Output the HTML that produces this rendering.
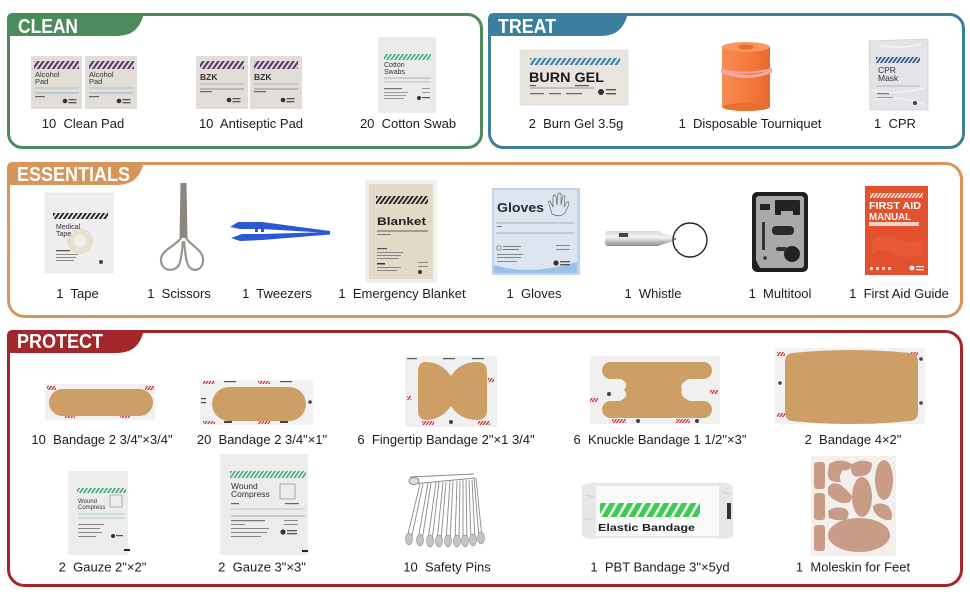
<!DOCTYPE html>
<html><head><meta charset="utf-8">
<style>
html,body{margin:0;padding:0;background:#fff;width:970px;height:600px;overflow:hidden}
svg{display:block}
text{font-family:"Liberation Sans",Arial,sans-serif}
.l{font-size:13px;fill:#1c1c1c;text-anchor:middle}
.t{font-weight:bold;font-size:20.5px;fill:#fff}
</style></head><body>
<svg width="970" height="600" viewBox="0 0 970 600" xmlns="http://www.w3.org/2000/svg">
<defs>
<pattern id="pu" width="5" height="10" patternUnits="userSpaceOnUse" patternTransform="skewX(-35)"><rect width="2.6" height="10" fill="#5a3a6b"/></pattern>
<pattern id="pg" width="4" height="10" patternUnits="userSpaceOnUse" patternTransform="skewX(-35)"><rect width="2" height="10" fill="#45ad78"/></pattern>
<pattern id="pb" width="5" height="10" patternUnits="userSpaceOnUse" patternTransform="skewX(-35)"><rect width="2.6" height="10" fill="#3a7fb2"/></pattern>
<pattern id="pn" width="4" height="10" patternUnits="userSpaceOnUse" patternTransform="skewX(-35)"><rect width="2" height="10" fill="#2b4b8e"/></pattern>
<pattern id="pk" width="4.5" height="10" patternUnits="userSpaceOnUse" patternTransform="skewX(-35)"><rect width="2.3" height="10" fill="#222"/></pattern>
<pattern id="pw" width="3.5" height="10" patternUnits="userSpaceOnUse" patternTransform="skewX(-35)"><rect width="1.8" height="10" fill="#fff"/></pattern>
<pattern id="pr" width="3" height="10" patternUnits="userSpaceOnUse" patternTransform="skewX(-35)"><rect width="1.5" height="10" fill="#d42a2a"/></pattern>
<pattern id="pe" width="9" height="20" patternUnits="userSpaceOnUse" patternTransform="skewX(-30)"><rect width="6" height="20" fill="#3ccc50"/></pattern>
<linearGradient id="og" x1="0" x2="1"><stop offset="0" stop-color="#f78c52"/><stop offset=".5" stop-color="#f67b3e"/><stop offset="1" stop-color="#e86a2e"/></linearGradient>
<linearGradient id="sg" x1="0" y1="0" x2="0" y2="1"><stop offset="0" stop-color="#d8d8d8"/><stop offset=".4" stop-color="#f4f4f4"/><stop offset="1" stop-color="#8c8c8c"/></linearGradient>
</defs>

<!-- BOXES -->
<rect x="8.5" y="14.5" width="473" height="133" rx="14" fill="none" stroke="#4b8b5c" stroke-width="3"/>
<path d="M7,19 Q7,13 13,13 H144 C140,29 132,36 116,36 H7 Z" fill="#4b8b5c"/>
<text class="t" x="18" y="33" textLength="60" lengthAdjust="spacingAndGlyphs">CLEAN</text>

<rect x="489.5" y="14.5" width="474" height="133" rx="14" fill="none" stroke="#3b7e9d" stroke-width="3"/>
<path d="M488,19 Q488,13 494,13 H628 C624,29 616,36 600,36 H488 Z" fill="#3b7e9d"/>
<text class="t" x="498" y="33" textLength="58" lengthAdjust="spacingAndGlyphs">TREAT</text>

<rect x="8.5" y="163.5" width="953" height="153" rx="16" fill="none" stroke="#d8955a" stroke-width="3"/>
<path d="M7,168 Q7,162 13,162 H144 C140,178 132,185 116,185 H7 Z" fill="#d8955a"/>
<text class="t" x="17" y="181" textLength="113" lengthAdjust="spacingAndGlyphs">ESSENTIALS</text>

<rect x="8.5" y="331.5" width="953" height="254" rx="16" fill="none" stroke="#a3262b" stroke-width="3"/>
<path d="M7,336 Q7,330 13,330 H144 C140,346 132,353 116,353 H7 Z" fill="#a3262b"/>
<text class="t" x="17" y="348" textLength="86" lengthAdjust="spacingAndGlyphs">PROTECT</text>

<!-- CLEAN items -->
<g>
<rect x="31" y="56" width="51" height="53" fill="#e1ddd7"/>
<rect x="34" y="61" width="45" height="8" fill="url(#pu)"/>
<text x="35" y="77" font-size="7.5" fill="#333">Alcohol</text>
<text x="35" y="84" font-size="7.5" fill="#333">Pad</text>
<line x1="35" y1="88" x2="79" y2="88" stroke="#999" stroke-width=".6"/>
<line x1="35" y1="93" x2="79" y2="93" stroke="#7fa3c8" stroke-width=".7"/>
<rect x="35" y="96" width="10" height="1.2" fill="#666"/>
<circle cx="65" cy="101" r="2.3" fill="#333"/><rect x="68.5" y="99" width="8" height="1.3" fill="#555"/><rect x="68.5" y="102" width="8" height="1.3" fill="#555"/>
<rect x="85" y="56" width="52" height="53" fill="#e1ddd7"/>
<rect x="89" y="61" width="45" height="8" fill="url(#pu)"/>
<text x="89" y="77" font-size="7.5" fill="#333">Alcohol</text>
<text x="89" y="84" font-size="7.5" fill="#333">Pad</text>
<line x1="89" y1="88" x2="133" y2="88" stroke="#999" stroke-width=".6"/>
<line x1="89" y1="93" x2="133" y2="93" stroke="#7fa3c8" stroke-width=".7"/>
<rect x="89" y="96" width="10" height="1.2" fill="#666"/>
<circle cx="119" cy="101" r="2.3" fill="#333"/><rect x="122.5" y="99" width="8" height="1.3" fill="#555"/><rect x="122.5" y="102" width="8" height="1.3" fill="#555"/>
</g>
<g>
<rect x="196" y="56" width="52" height="53" fill="#e1ddd7"/>
<rect x="200" y="61" width="44" height="8" fill="url(#pu)"/>
<text x="200" y="80" font-size="8.5" font-weight="bold" fill="#333">BZK</text>
<line x1="200" y1="84" x2="244" y2="84" stroke="#888" stroke-width=".6"/>
<line x1="200" y1="89" x2="244" y2="89" stroke="#8a6a8a" stroke-width=".8"/>
<rect x="200" y="91" width="12" height="1.2" fill="#666"/>
<circle cx="229" cy="100" r="2.3" fill="#333"/><rect x="232.5" y="98" width="8" height="1.3" fill="#555"/><rect x="232.5" y="101" width="8" height="1.3" fill="#555"/>
<rect x="250" y="56" width="52" height="53" fill="#e1ddd7"/>
<rect x="254" y="61" width="44" height="8" fill="url(#pu)"/>
<text x="254" y="80" font-size="8.5" font-weight="bold" fill="#333">BZK</text>
<line x1="254" y1="84" x2="298" y2="84" stroke="#888" stroke-width=".6"/>
<line x1="254" y1="89" x2="298" y2="89" stroke="#8a6a8a" stroke-width=".8"/>
<rect x="254" y="91" width="12" height="1.2" fill="#666"/>
<circle cx="283" cy="100" r="2.3" fill="#333"/><rect x="286.5" y="98" width="8" height="1.3" fill="#555"/><rect x="286.5" y="101" width="8" height="1.3" fill="#555"/>
</g>
<g>
<rect x="378" y="37" width="58" height="76" fill="#ebebea"/>
<rect x="384" y="54" width="47" height="6" fill="url(#pg)"/>
<text x="384" y="67" font-size="7" fill="#333">Cotton</text>
<text x="384" y="74" font-size="7" fill="#333">Swabs</text>
<line x1="384" y1="78" x2="431" y2="78" stroke="#777" stroke-width=".5"/>
<line x1="384" y1="82" x2="431" y2="82" stroke="#6ab08a" stroke-width=".6"/>
<rect x="384" y="88" width="18" height="1.2" fill="#777"/><rect x="384" y="92" width="24" height="1" fill="#999"/><rect x="384" y="95" width="22" height="1" fill="#999"/><rect x="384" y="98" width="20" height="1" fill="#999"/>
<rect x="422" y="88" width="8" height="1" fill="#999"/><rect x="422" y="92" width="8" height="1" fill="#999"/>
<circle cx="419" cy="98" r="2" fill="#333"/><rect x="422" y="97" width="8" height="1.2" fill="#555"/>
</g>

<!-- TREAT items -->
<g>
<rect x="520" y="50" width="108" height="55" fill="#e8e5de" stroke="#dcd8d0" stroke-width=".6"/>
<rect x="530" y="58" width="90" height="7" fill="url(#pb)"/>
<text x="529" y="82" font-size="13.5" font-weight="bold" fill="#1a1a1a" textLength="75" lengthAdjust="spacingAndGlyphs">BURN GEL</text>
<line x1="530" y1="88" x2="594" y2="88" stroke="#555" stroke-width=".6"/>
<rect x="530" y="85" width="6" height="1.2" fill="#555"/><rect x="575" y="85" width="14" height="1.2" fill="#555"/>
<rect x="530" y="93" width="14" height="1.2" fill="#666"/><rect x="549" y="93" width="12" height="1.2" fill="#666"/><rect x="566" y="93" width="16" height="1.2" fill="#666"/>
<circle cx="601" cy="92" r="3" fill="#333"/><rect x="606" y="89" width="10" height="1.4" fill="#555"/><rect x="606" y="93" width="10" height="1.4" fill="#555"/>
</g>
<g>
<rect x="722" y="47" width="48" height="60" fill="url(#og)"/>
<ellipse cx="746" cy="107" rx="24" ry="4" fill="#e8702f"/>
<ellipse cx="746" cy="47" rx="24" ry="5" fill="#f89660"/>
<ellipse cx="746" cy="47" rx="8" ry="2.6" fill="#e66c30"/>
<path d="M721,70 Q746,76 772,69" fill="none" stroke="#f0a5a0" stroke-width="2"/>
<path d="M721,71 Q746,82 772,71" fill="none" stroke="#f3aaa5" stroke-width="3"/>
</g>
<g>
<path d="M869,41 L928,39 L928,110 L870,110 Z" fill="#e2e4e8" stroke="#cfd2d7" stroke-width=".8"/>
<rect x="876" y="57" width="44" height="6" fill="url(#pn)"/>
<text x="878" y="73" font-size="8.5" fill="#333">CPR</text>
<text x="878" y="81" font-size="8.5" fill="#333">Mask</text>
<line x1="877" y1="86" x2="920" y2="86" stroke="#888" stroke-width=".5"/>
<path d="M872,90 Q890,96 925,88 M874,100 Q895,94 924,104 M880,45 Q900,50 922,44" fill="none" stroke="#f5f6f8" stroke-width="1.2"/>
<rect x="877" y="93" width="12" height="1.2" fill="#777"/><rect x="877" y="97" width="16" height="1" fill="#999"/>
<circle cx="915" cy="103" r="2" fill="#444"/>
</g>

<!-- ESSENTIALS items -->
<g>
<rect x="45" y="193" width="68" height="80" fill="#eeeeee" stroke="#e2e2e2" stroke-width=".6"/>
<rect x="53" y="213" width="55" height="6" fill="url(#pk)"/>
<circle cx="80" cy="241" r="13" fill="#e7dfcf"/>
<circle cx="80" cy="241" r="6" fill="#eeeeee"/>
<text x="56" y="229" font-size="7" fill="#333">Medical</text>
<text x="56" y="236" font-size="7" fill="#333">Tape</text>
<rect x="56" y="250" width="14" height="1.3" fill="#555"/><rect x="56" y="254" width="22" height="1" fill="#888"/><rect x="56" y="257" width="20" height="1" fill="#888"/><rect x="56" y="260" width="18" height="1" fill="#888"/>
<circle cx="101" cy="262" r="2" fill="#444"/>
</g>
<g>
<path d="M180.5,183 L186.5,183 L187.5,238 L179.5,238 Z" fill="#8b8780"/>
<path d="M181,238 C176,246 160,250 161,261 C162,272 175,272 179,265 C182,258 182,248 183,241" fill="none" stroke="#9a958e" stroke-width="2.2"/>
<path d="M186,238 C191,246 204,250 203,261 C202,272 191,272 188,265 C185,258 185,248 184,241" fill="none" stroke="#9a958e" stroke-width="2.2"/>
</g>
<g fill="#2b58d4">
<path d="M230,227 L238,222 L262,222 L330,231 L330,233 L262,229 L240,229 Z"/>
<path d="M231,238 L242,234 L262,234 L330,232 L330,234.5 L262,240 L240,241 Z"/>
<rect x="255" y="223" width="3" height="9"/><rect x="261" y="223" width="3" height="9"/>
</g>
<g>
<rect x="365" y="180" width="72" height="103" fill="#f0f0f0"/>
<rect x="369" y="184" width="64" height="95" fill="#e4dac8"/>
<rect x="376" y="196" width="52" height="8" fill="url(#pk)"/>
<text x="377" y="225" font-size="11" font-weight="bold" fill="#222" textLength="49" lengthAdjust="spacingAndGlyphs">Blanket</text>
<line x1="377" y1="231" x2="428" y2="231" stroke="#333" stroke-width=".8"/>
<rect x="377" y="234" width="14" height="1" fill="#777"/>
<rect x="377" y="248" width="10" height="1.2" fill="#555"/><rect x="377" y="252" width="26" height="1" fill="#888"/><rect x="377" y="255" width="24" height="1" fill="#888"/><rect x="377" y="258" width="22" height="1" fill="#888"/>
<rect x="377" y="263" width="8" height="1.5" fill="#333"/><rect x="377" y="267" width="24" height="1" fill="#888"/><rect x="377" y="270" width="20" height="1" fill="#888"/>
<rect x="418" y="262" width="10" height="1" fill="#888"/><rect x="418" y="266" width="10" height="1" fill="#888"/><circle cx="420" cy="272" r="2" fill="#333"/>
</g>
<g>
<rect x="492" y="188" width="88" height="87" fill="#bdd3ee"/>
<rect x="494" y="190" width="83" height="83" fill="#dde6f0"/>
<path d="M494,265 Q530,276 577,262 L577,273 L494,273 Z" fill="#9cc0ea"/>
<text x="497" y="212" font-size="12.5" font-weight="bold" fill="#2a2a2a" textLength="47" lengthAdjust="spacingAndGlyphs">Gloves</text>
<path d="M552,214 L549,204 Q548,201 550,201 L553,207 L553,196 Q555,194 556,196 L557,205 L558,194 Q560,192 561,194 L561,205 L563,196 Q565,195 565,197 L564,207 L567,202 Q569,201 569,204 L565,213 Q560,218 552,214 Z" fill="none" stroke="#666" stroke-width=".7"/>
<line x1="496" y1="223" x2="575" y2="223" stroke="#777" stroke-width=".6"/>
<line x1="496" y1="233" x2="575" y2="233" stroke="#777" stroke-width=".6"/>
<rect x="497" y="226" width="5" height="1" fill="#777"/>
<rect x="497" y="246" width="4" height="4" fill="none" stroke="#555" stroke-width=".5"/>
<rect x="503" y="246" width="18" height="1" fill="#777"/><rect x="503" y="249" width="16" height="1" fill="#777"/><rect x="497" y="254" width="26" height="1" fill="#888"/><rect x="497" y="257" width="24" height="1" fill="#888"/><rect x="497" y="261" width="20" height="1" fill="#888"/>
<rect x="556" y="245" width="14" height="1" fill="#888"/><rect x="556" y="249" width="14" height="1" fill="#888"/>
<circle cx="556" cy="263" r="2.6" fill="#333"/><rect x="560" y="261" width="10" height="1.3" fill="#555"/><rect x="560" y="264" width="10" height="1.3" fill="#555"/>
</g>
<g>
<rect x="605" y="231" width="56" height="15" rx="3" fill="url(#sg)"/>
<path d="M660,232.5 L674,236.5 L674,241 L660,245 Z" fill="url(#sg)"/>
<rect x="619" y="233" width="9" height="4" fill="#444"/>
<line x1="674" y1="239" x2="676" y2="239" stroke="#333" stroke-width="1.2"/>
<circle cx="690" cy="240" r="17" fill="none" stroke="#222" stroke-width="1.4"/>
</g>
<g>
<rect x="752" y="192" width="56" height="80" rx="5" fill="#1f1f1f"/>
<rect x="756" y="196" width="48" height="72" rx="3" fill="#a9a9a9"/>
<rect x="775" y="200" width="25" height="15" rx="1" fill="#222"/>
<rect x="781" y="211" width="12" height="4" fill="#a9a9a9"/>
<rect x="760" y="204" width="10" height="6" fill="#222"/>
<rect x="772" y="226" width="22" height="9" rx="4" fill="#2a2a2a"/>
<circle cx="792" cy="254" r="8" fill="#222"/>
<rect x="762" y="222" width="3" height="28" fill="#333"/>
<rect x="776" y="247" width="11" height="4" rx="2" fill="#333"/>
<circle cx="765" cy="258" r="1.8" fill="#333"/>
<path d="M756,260 L760,268 L756,268 Z" fill="#1f1f1f"/>
</g>
<g>
<rect x="865" y="186" width="63" height="89" fill="#e3512f"/>
<rect x="870" y="193" width="53" height="5" fill="url(#pw)"/>
<text x="869" y="209" font-size="10.5" font-weight="bold" fill="#fff" textLength="52" lengthAdjust="spacingAndGlyphs">FIRST AID</text>
<text x="869" y="220" font-size="10.5" font-weight="bold" fill="#fff" textLength="42" lengthAdjust="spacingAndGlyphs">MANUAL</text>
<rect x="869" y="222" width="50" height="4" fill="#f5d0c5"/>
<path d="M872,240 Q885,232 900,240 Q912,246 922,238 L922,255 Q905,260 890,252 Q878,248 872,254 Z" fill="#e86040" opacity=".6"/>
<rect x="870" y="267" width="3" height="3" fill="#fff" opacity=".8"/><rect x="876" y="267" width="3" height="3" fill="#fff" opacity=".8"/><rect x="882" y="267" width="3" height="3" fill="#fff" opacity=".8"/><rect x="888" y="267" width="3" height="3" fill="#fff" opacity=".8"/>
<circle cx="912" cy="268" r="2.4" fill="#fff"/><rect x="916" y="266" width="8" height="1.3" fill="#fff"/><rect x="916" y="269" width="8" height="1.3" fill="#fff"/>
</g>

<!-- PROTECT row 1 -->
<g>
<rect x="45" y="384" width="110" height="36" fill="#f1f1f1"/>
<rect x="47" y="386" width="9" height="4" fill="url(#pr)"/><rect x="145" y="386" width="9" height="4" fill="url(#pr)"/>
<rect x="65" y="416" width="10" height="2" fill="url(#pr)"/><rect x="120" y="416" width="10" height="2" fill="url(#pr)"/>
<rect x="49" y="389" width="104" height="27" rx="13.5" fill="#cd9e66"/>
</g>
<g>
<rect x="200" y="380" width="113" height="45" fill="#f1f1f1"/>
<rect x="203" y="381" width="12" height="3" fill="url(#pr)"/><rect x="258" y="381" width="12" height="3" fill="url(#pr)"/>
<rect x="203" y="421" width="12" height="3" fill="url(#pr)"/><rect x="258" y="421" width="12" height="3" fill="url(#pr)"/>
<rect x="224" y="381" width="12" height="1.2" fill="#555"/><rect x="280" y="381" width="12" height="1.2" fill="#555"/>
<rect x="224" y="421" width="8" height="2" fill="#444"/><rect x="280" y="421" width="8" height="2" fill="#444"/>
<rect x="201" y="398" width="5" height="1.2" fill="#444"/><rect x="201" y="402" width="5" height="1.2" fill="#444"/>
<circle cx="310" cy="402" r="1.8" fill="#444"/>
<rect x="212" y="387" width="94" height="34" rx="17" fill="#cd9e66"/>
</g>
<g>
<rect x="405" y="356" width="92" height="71" fill="#f0f0f0"/>
<rect x="407" y="358" width="10" height="1.2" fill="#555"/><rect x="443" y="358" width="12" height="1.2" fill="#555"/><rect x="472" y="358" width="12" height="1.2" fill="#555"/>
<rect x="407" y="396" width="4" height="4" fill="url(#pr)"/><rect x="488" y="378" width="6" height="4" fill="url(#pr)"/>
<rect x="422" y="421" width="12" height="4" fill="url(#pr)"/><rect x="478" y="421" width="12" height="4" fill="url(#pr)"/>
<circle cx="451" cy="422" r="2" fill="#444"/>
<path d="M426,362 Q441,362 451,376 Q460,362 477,362 Q487,362 487,372 L487,410 Q487,420 477,420 Q460,420 451,406 Q441,420 426,420 Q418,420 418,410 L418,372 Q418,362 426,362 Z" fill="#cd9e66"/>
</g>
<g>
<rect x="590" y="356" width="130" height="68" fill="#f0f0f0"/>
<rect x="590" y="398" width="8" height="4" fill="url(#pr)"/><rect x="710" y="390" width="8" height="4" fill="url(#pr)"/>
<rect x="612" y="419" width="14" height="4" fill="url(#pr)"/><rect x="676" y="419" width="14" height="4" fill="url(#pr)"/>
<circle cx="609" cy="394" r="2" fill="#444"/><circle cx="638" cy="421" r="2" fill="#444"/><circle cx="697" cy="421" r="2" fill="#444"/>
<rect x="602" y="362" width="110" height="17" rx="8.5" fill="#cd9e66"/>
<rect x="602" y="401" width="110" height="17" rx="8.5" fill="#cd9e66"/>
<path d="M612,376 Q632,381 624,390 Q632,398 612,404 L698,404 Q678,398 682,390 Q678,381 698,376 Z" fill="#cd9e66"/>
</g>
<g>
<rect x="775" y="348" width="150" height="76" fill="#f1f1f1"/>
<rect x="777" y="352" width="8" height="4" fill="url(#pr)"/><rect x="910" y="352" width="8" height="4" fill="url(#pr)"/>
<rect x="777" y="413" width="8" height="4" fill="url(#pr)"/>
<circle cx="780" cy="383" r="1.8" fill="#444"/><circle cx="921" cy="359" r="1.8" fill="#444"/><circle cx="921" cy="403" r="1.8" fill="#444"/>
<path d="M792,353 Q851,347 910,353 Q918,354 918,362 L918,412 Q918,420 910,421 Q851,427 792,421 Q785,420 785,412 L785,362 Q785,354 792,353 Z" fill="#cd9e66"/>
</g>

<!-- PROTECT row 2 -->
<g>
<rect x="68" y="471" width="60" height="84" fill="#ececec"/>
<rect x="77" y="488" width="49" height="5" fill="url(#pg)"/>
<text x="78" y="503" font-size="6" fill="#333">Wound</text>
<text x="78" y="509" font-size="6" fill="#333">Compress</text>
<rect x="110" y="495" width="12" height="12" fill="none" stroke="#999" stroke-width=".7"/>
<line x1="78" y1="514" x2="125" y2="514" stroke="#6ab08a" stroke-width=".5"/>
<line x1="78" y1="518" x2="125" y2="518" stroke="#6ab08a" stroke-width=".5"/>
<rect x="78" y="524" width="26" height="1" fill="#888"/><rect x="78" y="528" width="22" height="1" fill="#888"/><rect x="78" y="532" width="24" height="1" fill="#888"/><rect x="78" y="536" width="18" height="1" fill="#888"/>
<circle cx="113" cy="536" r="2" fill="#333"/><rect x="116" y="535" width="7" height="1.2" fill="#555"/>
<rect x="124" y="549" width="6" height="2" fill="#222"/>
</g>
<g>
<rect x="220" y="454" width="88" height="101" fill="#ececec"/>
<rect x="230" y="471" width="76" height="7" fill="url(#pg)"/>
<text x="231" y="489" font-size="8.5" fill="#333">Wound</text>
<text x="231" y="497" font-size="8.5" fill="#333">Compress</text>
<rect x="280" y="484" width="15" height="15" fill="none" stroke="#999" stroke-width=".8"/>
<line x1="231" y1="509" x2="305" y2="509" stroke="#6ab08a" stroke-width=".6"/>
<line x1="231" y1="516" x2="305" y2="516" stroke="#555" stroke-width=".4"/>
<rect x="231" y="503" width="8" height="1.2" fill="#666"/><rect x="285" y="503" width="14" height="1.2" fill="#666"/>
<rect x="231" y="520" width="34" height="1.2" fill="#777"/><rect x="231" y="524" width="14" height="1" fill="#888"/><rect x="231" y="528" width="38" height="1" fill="#888"/><rect x="231" y="532" width="36" height="1" fill="#888"/><rect x="231" y="536" width="30" height="1" fill="#888"/>
<rect x="284" y="520" width="14" height="1" fill="#888"/><rect x="284" y="524" width="14" height="1" fill="#888"/>
<circle cx="283" cy="532" r="2.6" fill="#333"/><rect x="287" y="530" width="10" height="1.3" fill="#555"/><rect x="287" y="533" width="10" height="1.3" fill="#555"/>
<rect x="302" y="550" width="6" height="2" fill="#222"/>
</g>
<g fill="none" stroke="#8a8a8a" stroke-width=".9">
<path d="M410,477 L474,474 M412,484 L475,478"/>
<ellipse cx="414" cy="481" rx="5" ry="3.5" fill="#ddd"/>
<path d="M420,484 L407,538 M423,484 L411,540"/>
<path d="M428,483 L418,540 M431,483 L422,541"/>
<path d="M436,482 L428,541 M439,482 L432,541"/>
<path d="M443,482 L437,541 M446,482 L441,541"/>
<path d="M450,481 L446,541 M453,481 L450,541"/>
<path d="M457,481 L455,541 M460,481 L459,541"/>
<path d="M463,480 L463,541 M466,480 L467,541"/>
<path d="M469,480 L471,540 M472,480 L475,540"/>
<path d="M474,478 L479,538 M476,478 L482,538"/>
</g>
<g fill="#c4c4c4" stroke="#7a7a7a" stroke-width=".5">
<ellipse cx="409" cy="539" rx="3.5" ry="6"/><ellipse cx="420" cy="540" rx="3.5" ry="6"/><ellipse cx="430" cy="541" rx="3.5" ry="6"/><ellipse cx="439" cy="541" rx="3.5" ry="6"/><ellipse cx="448" cy="541" rx="3.5" ry="6"/><ellipse cx="457" cy="541" rx="3.5" ry="6"/><ellipse cx="465" cy="541" rx="3.5" ry="6"/><ellipse cx="473" cy="540" rx="3.5" ry="6"/><ellipse cx="481" cy="538" rx="3.5" ry="6"/>
</g>
<g>
<path d="M582,486 Q590,481 600,483 L715,483 Q728,481 733,487 L733,536 Q725,541 715,538 L600,538 Q590,541 582,536 Z" fill="#e6e8e8"/>
<rect x="596" y="486" width="123" height="50" fill="#fafafa"/>
<rect x="600" y="503" width="100" height="14" fill="url(#pe)"/>
<text x="598" y="531" font-size="10" font-weight="bold" fill="#222" textLength="97" lengthAdjust="spacingAndGlyphs">Elastic Bandage</text>
<rect x="727" y="503" width="4" height="16" fill="#333"/>
<path d="M585,495 L595,497 M585,520 L594,518 M722,492 L731,494" stroke="#cfcfcf" stroke-width="1"/>
</g>
<g fill="#c89c86">
<rect x="811" y="456" width="85" height="100" fill="#f2efed"/>
<rect x="814" y="462" width="11" height="27" rx="3"/>
<rect x="814" y="493" width="11" height="27" rx="3"/>
<rect x="814" y="525" width="11" height="26" rx="3"/>
<ellipse cx="859" cy="535" rx="31" ry="17"/>
<ellipse cx="862" cy="497" rx="10" ry="20"/>
<ellipse cx="884" cy="480" rx="9" ry="20"/>
<path d="M829,464 Q840,457 852,464 Q850,472 843,470 Q838,476 841,482 Q826,483 828,472 Z"/>
<path d="M850,466 Q860,457 872,463 Q872,475 862,476 Q855,478 852,474 Z"/>
<path d="M828,487 Q834,480 842,486 Q848,491 852,496 Q852,504 842,503 Q832,500 828,494 Z"/>
<path d="M828,511 Q836,505 846,509 Q851,514 846,520 Q836,521 829,518 Z"/>
<path d="M873,506 Q880,501 888,506 Q894,513 891,520 Q884,521 878,516 Q873,512 873,506 Z"/>
</g>

<!-- LABELS -->
<text class="l" x="83" y="128">10&#160; Clean Pad</text>
<text class="l" x="251" y="128">10&#160; Antiseptic Pad</text>
<text class="l" x="408" y="128">20&#160; Cotton Swab</text>
<text class="l" x="576" y="128">2&#160; Burn Gel 3.5g</text>
<text class="l" x="750" y="128">1&#160; Disposable Tourniquet</text>
<text class="l" x="895" y="128">1&#160; CPR</text>

<text class="l" x="77.5" y="298">1&#160; Tape</text>
<text class="l" x="179" y="298">1&#160; Scissors</text>
<text class="l" x="277" y="298">1&#160; Tweezers</text>
<text class="l" x="402" y="298">1&#160; Emergency Blanket</text>
<text class="l" x="534" y="298">1&#160; Gloves</text>
<text class="l" x="653" y="298">1&#160; Whistle</text>
<text class="l" x="780" y="298">1&#160; Multitool</text>
<text class="l" x="899" y="298">1&#160; First Aid Guide</text>

<text class="l" x="102" y="444">10&#160; Bandage 2 3/4"×3/4"</text>
<text class="l" x="262" y="444">20&#160; Bandage 2 3/4"×1"</text>
<text class="l" x="446" y="444">6&#160; Fingertip Bandage 2"×1 3/4"</text>
<text class="l" x="660" y="444">6&#160; Knuckle Bandage 1 1/2"×3"</text>
<text class="l" x="853" y="444">2&#160; Bandage 4×2"</text>

<text class="l" x="102.5" y="571.5">2&#160; Gauze 2"×2"</text>
<text class="l" x="262" y="571.5">2&#160; Gauze 3"×3"</text>
<text class="l" x="447" y="571.5">10&#160; Safety Pins</text>
<text class="l" x="660" y="571.5">1&#160; PBT Bandage 3"×5yd</text>
<text class="l" x="853" y="571.5">1&#160; Moleskin for Feet</text>
</svg>
</body></html>
